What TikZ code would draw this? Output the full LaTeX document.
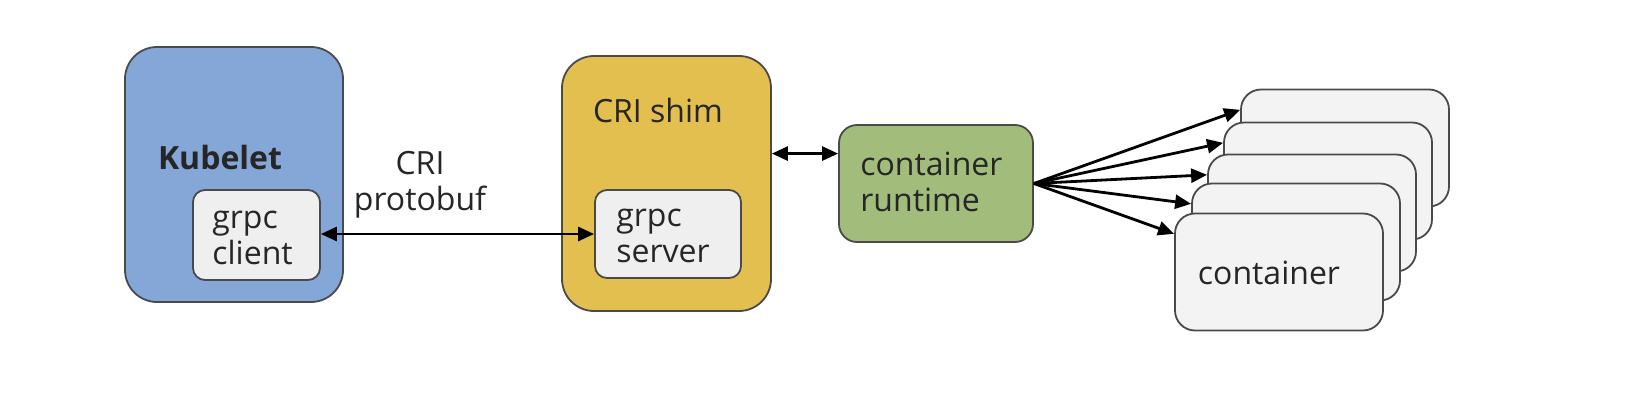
\documentclass[tikz,border=0pt]{standalone}
\usepackage{fontspec}
\setmainfont{Open Sans}
\usetikzlibrary{arrows.meta,calc}
\definecolor{kblue}{HTML}{84A7D7}
\definecolor{kyellow}{HTML}{E3BF50}
\definecolor{kgreen}{HTML}{A2BD7B}
\definecolor{kgray}{HTML}{EFEFEF}
\definecolor{kcont}{HTML}{F3F3F3}
\definecolor{kedge}{HTML}{4A4A4A}
\begin{document}
\begin{tikzpicture}[x=0.5pt,y=-0.5pt,
  box/.style={draw=kedge, line width=0.9pt, inner sep=0pt},
  lbl/.style={inner sep=0pt, font=\fontsize{16}{18}\selectfont, text=black!85},
  cont/.style={box, fill=kcont, minimum width=104pt, minimum height=58.5pt, rounded corners=10pt},
  dbl/.style={line width=1.4pt, {Triangle[length=8pt,width=7pt]}-{Triangle[length=8pt,width=7pt]}},
  one/.style={line width=1.4pt, -{Triangle[length=8pt,width=7pt]}}]
\useasboundingbox (0,0) rectangle (1630,402);
% Kubelet
\node[box, fill=kblue, minimum width=109pt, minimum height=127.5pt, rounded corners=16pt] (kub) at (234,174.5) {};
\node[lbl, font=\fontsize{16}{18}\selectfont\bfseries] (kubl) at (220,157) {Kubelet};
\node[box, fill=kgray, minimum width=63.5pt, minimum height=45pt, rounded corners=6pt] (cl) at (256.5,235) {};
\node[lbl, anchor=west, align=left] (cll) at (212,238) {grpc\\client};
% CRI shim
\node[box, fill=kyellow, minimum width=104.5pt, minimum height=127.5pt, rounded corners=16pt] (shim) at (666.5,183.5) {};
\node[lbl] (shiml) at (658,110) {CRI shim};
\node[box, fill=kgray, minimum width=73pt, minimum height=44pt, rounded corners=6pt] (sv) at (668,234) {};
\node[lbl, anchor=west, align=left] (svl) at (616,235.5) {grpc\\server};
% protobuf label
\node[lbl, align=center] (pb) at (420,185) {CRI\\protobuf};
% runtime
\node[box, fill=kgreen, minimum width=97pt, minimum height=58.5pt, rounded corners=9pt] (rt) at (936,183.5) {};
\node[lbl, anchor=west, align=left] (rtl) at (860,182) {container\\runtime};
% containers
\node[cont] (c1) at (1345,148) {};
\node[cont] (c2) at (1328,181) {};
\node[cont] (c3) at (1312,213) {};
\node[cont] (c4) at (1296,242) {};
\node[cont] (c5) at (1279,272) {};
\node[lbl] (c5l) at (1269,273) {container};
% connectors
\draw[dbl] (cl.east |- sv.west) -- (sv.west);
\draw[dbl] (shim.east |- rt.163) -- (rt.163);
\foreach \c in {c1,c2,c3,c4,c5}{
  \draw[one] (rt.east) -- (\c.160);
}
\end{tikzpicture}
\end{document}
